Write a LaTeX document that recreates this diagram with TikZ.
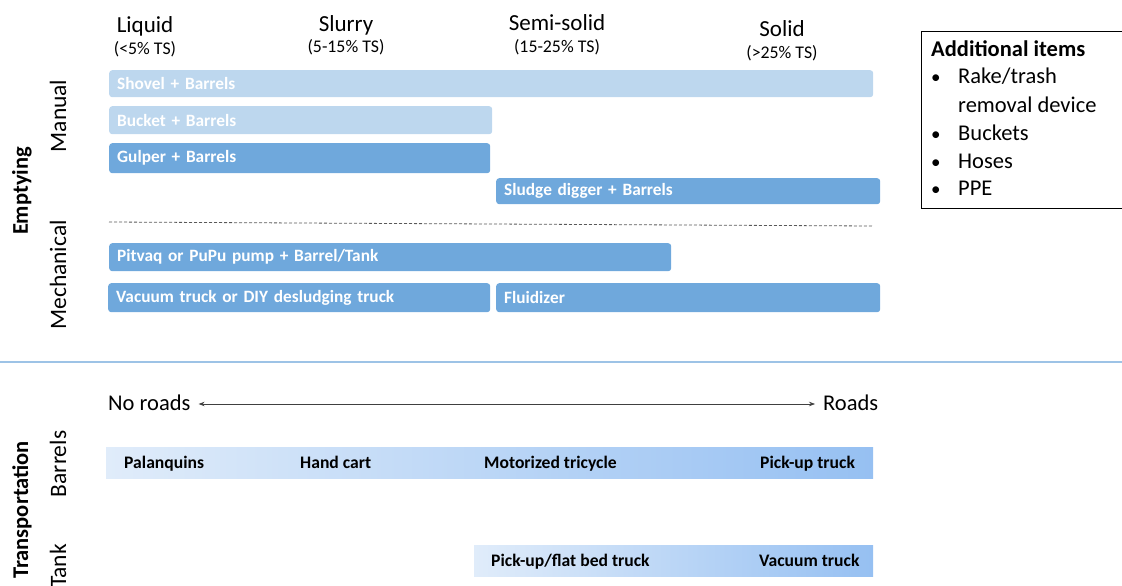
\documentclass[tikz,border=0pt]{standalone}
\usepackage{fontspec}
\setmainfont{Carlito}
\usetikzlibrary{arrows.meta}
\definecolor{lb}{RGB}{189,215,238}
\definecolor{db}{RGB}{111,168,220}
\definecolor{sep}{RGB}{157,195,230}
\definecolor{gl}{RGB}{224,236,250}
\definecolor{gr}{RGB}{150,192,242}
\newcommand{\fs}[1]{\fontsize{#1}{#1}\selectfont}
\tikzset{
  bar/.style={rounded corners=3pt, anchor=north west, inner xsep=8pt, inner ysep=0pt,
    font=\bfseries\fs{17.3}, text=white, align=left},
  head/.style={font=\fs{23}, inner sep=0pt},
  sub/.style={font=\fs{17.8}, inner sep=0pt},
  side/.style={font=\fs{23.5}, rotate=90, inner sep=0pt},
  sideb/.style={font=\bfseries\fs{22.5}, rotate=90, inner sep=0pt},
  tlab/.style={font=\bfseries\fs{17.6}, inner sep=0pt, anchor=base west},
  boxt/.style={font=\fs{22.5}, inner sep=0pt, anchor=base west},
  bul/.style={font=\fs{19}, inner sep=0pt, anchor=base west},
}
\begin{document}
\begin{tikzpicture}[x=1pt,y=-1pt]
\useasboundingbox (0,0) rectangle (1122,586);
% headings
\node[head] (liq) at (145,26) {Liquid};
\node[sub] (liqs) at (145,49) {(<5\% TS)};
\node[head] (slu) at (346,25) {Slurry};
\node[sub] (slus) at (346,47) {(5-15\% TS)};
\node[head] (sem) at (557,23) {Semi-solid};
\node[sub] (sems) at (557,47) {(15-25\% TS)};
\node[head] (sol) at (782,29) {Solid};
\node[sub] (sols) at (782,53) {(>25\% TS)};
% emptying bars
\node[bar, fill=lb, text width=748pt, minimum height=27pt] (shovel) at (109,70) {Shovel + Barrels};
\node[bar, fill=lb, text width=367pt, minimum height=28pt] (bucket) at (109,106) {Bucket + Barrels};
\node[bar, fill=db, text width=365pt, minimum height=30pt] (gulper) at (109,143) {Gulper + Barrels};
\node[bar, fill=db, text width=368pt, minimum height=26pt] (sludge) at (496,178) {Sludge digger + Barrels};
\coordinate (d1) at (109,222);
\coordinate (d2) at (873,226);
\draw[black!65, dash pattern=on 3pt off 2pt, line width=0.8pt] (d1) -- (d2);
\node[bar, fill=db, text width=546pt, minimum height=28pt] (pitvaq) at (109,243) {Pitvaq or PuPu pump + Barrel/Tank};
\node[bar, fill=db, text width=366pt, minimum height=29pt] (vac) at (108,283) {Vacuum truck or DIY desludging truck};
\node[bar, fill=db, text width=368pt, minimum height=29pt] (flu) at (496,283) {Fluidizer};
% separator
\coordinate (s1) at (0,362);
\coordinate (s2) at (1122,362);
\draw[sep, line width=1.6pt] (s1) -- (s2);
% side labels
\node[sideb] (empt) at (22,191) {Emptying};
\node[side] (man) at (58,116) {Manual};
\node[side] (mech) at (58,275) {Mechanical};
\node[sideb] (trans) at (22,510) {Transportation};
\node[side] (barr) at (58,464) {Barrels};
\node[side] (tank) at (58,566) {Tank};
% additional box
\node[draw=black, line width=0.8pt, minimum width=204pt, minimum height=177pt, anchor=north west, inner sep=0pt] (box) at (921,31) {};
\node[font=\bfseries\fs{22.5}, inner sep=0pt, anchor=base west] (addt) at (931,57) {Additional items};
\node[bul] (b1d) at (931,84) {•};
\node[boxt] (b1) at (958,84) {Rake/trash};
\node[boxt] (b2) at (958,112) {removal device};
\node[bul] (b3d) at (931,140) {•};
\node[boxt] (b3) at (958,140) {Buckets};
\node[bul] (b4d) at (931,168) {•};
\node[boxt] (b4) at (958,168) {Hoses};
\node[bul] (b5d) at (931,195) {•};
\node[boxt] (b5) at (958,195) {PPE};
% roads arrow
\node[font=\fs{22.5}, inner sep=0pt, anchor=west] (noroads) at (108,403) {No roads};
\node[font=\fs{22.5}, inner sep=0pt, anchor=west] (roads) at (823,403) {Roads};
\draw[{Stealth[length=6pt,width=4.5pt]}-{Stealth[length=6pt,width=4.5pt]}, line width=0.7pt, black!75]
  ([xshift=8pt,yshift=-1pt]noroads.east) -- ([xshift=-8pt,yshift=-1pt]roads.west);
% transportation bars
\node[left color=gl, right color=gr, minimum width=767pt, minimum height=31pt, anchor=north west, inner sep=0pt] (tb) at (106,447) {};
\node[tlab] (pal) at (124,468.5) {Palanquins};
\node[tlab] (hc) at (300,468.5) {Hand cart};
\node[tlab] (mt) at (484,468.5) {Motorized tricycle};
\node[tlab] (pu) at (760,468.5) {Pick-up truck};
\node[left color=gl, right color=gr, minimum width=399pt, minimum height=31pt, anchor=north west, inner sep=0pt] (tt) at (474,545) {};
\node[tlab] (pf) at (491,566.5) {Pick-up/flat bed truck};
\node[tlab] (vt) at (759,566.5) {Vacuum truck};
\end{tikzpicture}
\end{document}
